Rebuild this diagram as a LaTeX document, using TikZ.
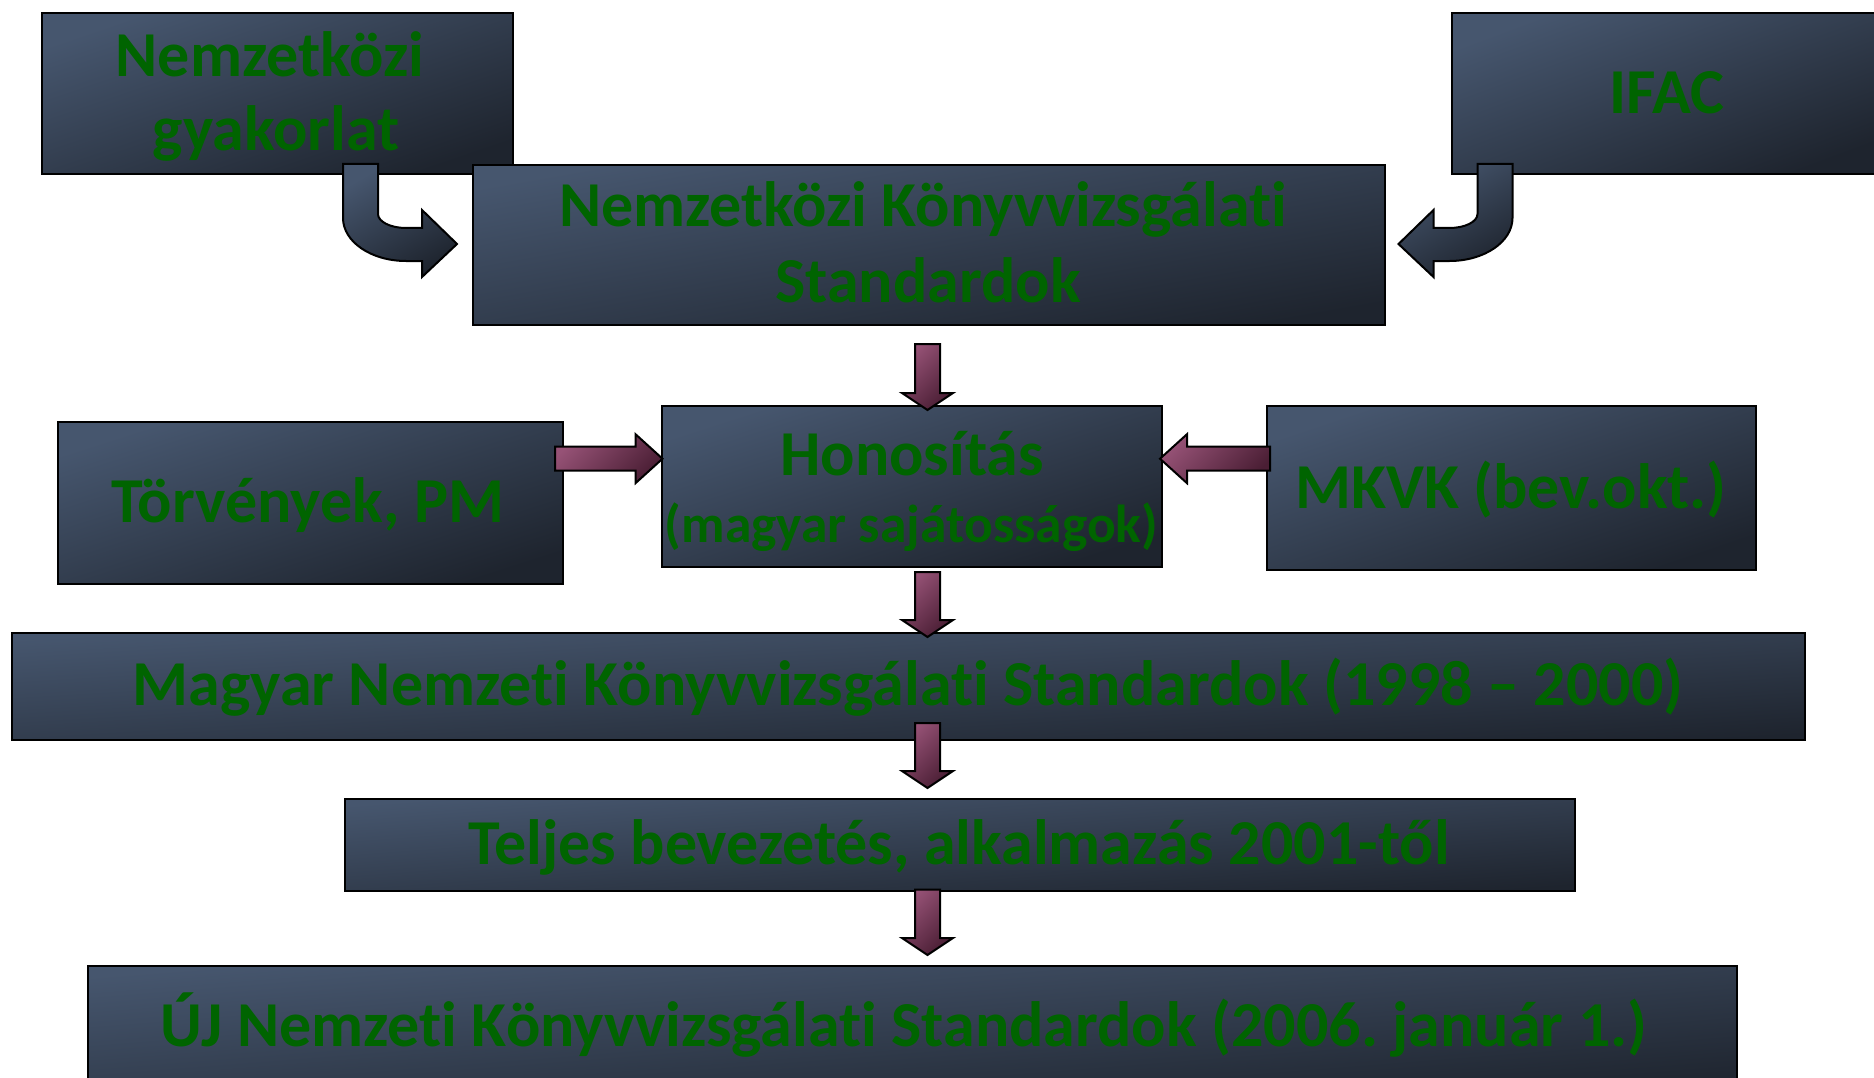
\documentclass[tikz,border=0pt]{standalone}
\usepackage{fontspec}
\setmainfont{Carlito}[Ligatures=NoCommon]
\usetikzlibrary{calc}
\definecolor{slateA}{RGB}{70,86,110}
\definecolor{slateB}{RGB}{30,36,46}
\definecolor{plumA}{RGB}{150,82,118}
\definecolor{plumB}{RGB}{74,30,52}
\definecolor{txtgreen}{RGB}{0,100,0}
\tikzset{
  box/.style={draw=black, line width=2.4pt, top color=slateA, bottom color=slateB, inner sep=0pt, anchor=north west},
  plumarrow/.style={draw=black, line width=2pt, line join=miter, top color=plumA, bottom color=plumB, shading angle=45},
  slatearrow/.style={draw=black, line width=2pt, line join=miter, top color=slateA, bottom color=slateB, shading angle=30},
  txt/.style={text=txtgreen, font=\bfseries\fontsize{64}{76}\selectfont, inner sep=0pt, anchor=base},
  smalltxt/.style={txt, font=\bfseries\fontsize{53.5}{64}\selectfont}
}
\newcommand\boxnode[5]{\pgfmathsetmacro\boxang{atan((#5-#3)/(#4-#2))}%
  \node[box, shading angle=\boxang, minimum width={#4-#2}, minimum height={#5-#3}] (#1) at (#2,#3) {};}
\newcommand\downblock[2]{\draw[plumarrow] ($(#1)+(-12.5,0)$) -- ($(#1)+(12.5,0)$) -- ($(#2)+(12.5,-17)$) -- ($(#2)+(25.5,-17)$) -- (#2) -- ($(#2)+(-25.5,-17)$) -- ($(#2)+(-12.5,-17)$) -- cycle;}
\newcommand\sideblock[3]{\draw[plumarrow] ($(#1)+(0,-12)$) -- ($(#2)+({#3*(-27)},-12)$) -- ($(#2)+({#3*(-27)},-24.5)$) -- (#2) -- ($(#2)+({#3*(-27)},24.5)$) -- ($(#2)+({#3*(-27)},12)$) -- ($(#1)+(0,12)$) -- cycle;}
\frenchspacing
\begin{document}
\begin{tikzpicture}[x=1pt,y=-1pt]
\useasboundingbox (0,0) rectangle (1874,1078);
\fill[white] (0,0) rectangle (1874,1078);
\clip (0,0) rectangle (1874,1078);
% top row
\boxnode{ng}{41}{12}{512}{173}
\node[txt] (ng1) at (270,76.5) {Nemzetközi};
\node[txt] (ng2) at (276,151) {gyakorlat};
\boxnode{ifac}{1451}{12}{1884}{173}
\node[txt] (ifac1) at (1667,113.5) {IFAC};
\boxnode{nks}{472}{164}{1384}{324}
\node[txt] (nks1) at (923,227) {Nemzetközi Könyvvizsgálati};
\node[txt] (nks2) at (928,302.5) {Standardok};
% curved arrows
\coordinate (c1) at (343,164);
\coordinate (c2) at (1512.5,164);
\draw[slatearrow] (c1) -- ++(0,54) arc[start angle=180, end angle=90, x radius=63, y radius=43] -- ++(16,0) -- ++(0,16) -- ++(35,-33) -- ++(-35,-34) -- ++(0,18) -- ++(-16,0) arc[start angle=90, end angle=180, x radius=28, y radius=14] -- ++(0,-50) -- cycle;
\draw[slatearrow] (c2) -- ++(0,54) arc[start angle=0, end angle=90, x radius=63, y radius=43] -- ++(-16,0) -- ++(0,16) -- ++(-35,-33) -- ++(35,-34) -- ++(0,18) -- ++(16,0) arc[start angle=90, end angle=0, x radius=28, y radius=14] -- ++(0,-50) -- cycle;
% middle row
\boxnode{torv}{57}{421}{562}{583}
\node[txt] (torv1) at (308,522) {Törvények, PM};
\boxnode{hon}{661}{405}{1161}{566}
\node[txt] (hon1) at (912,475) {Honosítás};
\node[smalltxt] (hon2) at (911.5,542) {(magyar sajátosságok)};
\boxnode{mkvk}{1266}{405}{1755}{569}
\node[txt] (mkvk1) at (1511,508) {MKVK (bev.okt.)};
% lower rows
\boxnode{magyar}{11}{632}{1804}{739}
\node[txt] (mag1) at (908,705) {Magyar Nemzeti Könyvvizsgálati Standardok (1998 – 2000)};
\boxnode{teljes}{344}{798}{1574}{890}
\node[txt] (tel1) at (959,864.5) {Teljes bevezetés, alkalmazás 2001-től};
\boxnode{uj}{87}{965}{1736}{1095}
\node[txt] (uj1) at (904,1046) {ÚJ Nemzeti Könyvvizsgálati Standardok (2006. január 1.)};
% block arrows
\coordinate (a1s) at (927.5,344);   \coordinate (a1e) at (927.5,410);
\coordinate (a2s) at (927.5,572);   \coordinate (a2e) at (927.5,637);
\coordinate (a3s) at (927.5,723);   \coordinate (a3e) at (927.5,788);
\coordinate (a4s) at (927.5,889.5); \coordinate (a4e) at (927.5,955);
\coordinate (h1s) at (555,458.7);   \coordinate (h1e) at (662.5,458.7);
\coordinate (h2s) at (1270,458.7);  \coordinate (h2e) at (1160,458.7);
\downblock{a1s}{a1e}
\downblock{a2s}{a2e}
\downblock{a3s}{a3e}
\downblock{a4s}{a4e}
\sideblock{h1s}{h1e}{1}
\sideblock{h2s}{h2e}{-1}
\end{tikzpicture}
\end{document}
